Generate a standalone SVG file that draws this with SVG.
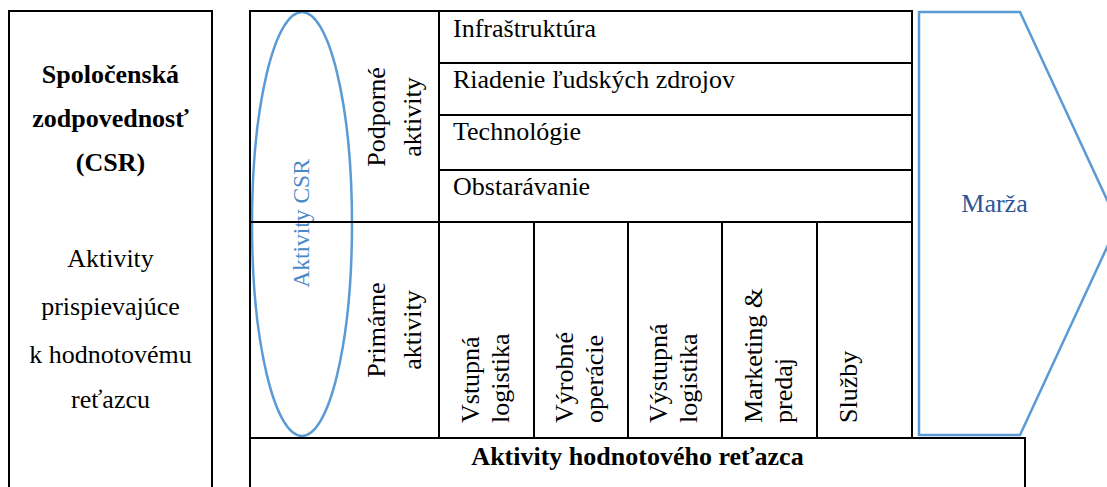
<svg xmlns="http://www.w3.org/2000/svg" width="1107" height="487" viewBox="0 0 1107 487">
<defs>
<marker id="none" markerWidth="1" markerHeight="1"/>
</defs>
<rect width="1107" height="487" fill="#fff"/>
<g id="csr-box" font-family="Liberation Serif" font-size="26" fill="#000" text-anchor="middle">
<rect x="9" y="11" width="203" height="500" fill="none" stroke="#000" stroke-width="2"/>
<text font-family="Liberation Serif" font-size="26" font-weight="bold" text-anchor="middle" x="110.5" y="83">Spoločenská</text>
<text font-family="Liberation Serif" font-size="26" font-weight="bold" text-anchor="middle" x="110.5" y="127">zodpovednosť</text>
<text font-family="Liberation Serif" font-size="26" font-weight="bold" text-anchor="middle" x="110.5" y="171">(CSR)</text>
<text font-family="Liberation Serif" font-size="26" text-anchor="middle" x="110.5" y="267">Aktivity</text>
<text font-family="Liberation Serif" font-size="26" text-anchor="middle" x="110.5" y="315">prispievajúce</text>
<text font-family="Liberation Serif" font-size="26" text-anchor="middle" x="110.5" y="363">k hodnotovému</text>
<text font-family="Liberation Serif" font-size="26" text-anchor="middle" x="110.5" y="408">reťazcu</text>
</g>
<g id="csr-ellipse">
<ellipse cx="302" cy="224" rx="50" ry="212" fill="none" stroke="#5B9BD5" stroke-width="2.5"/>
<text font-family="Liberation Serif" font-size="23.5" fill="#4A89C8" text-anchor="middle" transform="translate(309,223.5) rotate(-90)">Aktivity CSR</text>
</g>
<g id="value-chain">
<rect x="250" y="11" width="662" height="427" fill="none" stroke="#000" stroke-width="2"/>
<text font-family="Liberation Serif" font-size="26" text-anchor="middle" transform="translate(385,117) rotate(-90)">Podporné</text>
<text font-family="Liberation Serif" font-size="26" text-anchor="middle" transform="translate(421,117) rotate(-90)">aktivity</text>
<text font-family="Liberation Serif" font-size="26" text-anchor="middle" transform="translate(385,330) rotate(-90)">Primárne</text>
<text font-family="Liberation Serif" font-size="26" text-anchor="middle" transform="translate(421,330) rotate(-90)">aktivity</text>
</g>
<g id="support">
<text font-family="Liberation Serif" font-size="26" x="453" y="37">Infraštruktúra</text>
<text font-family="Liberation Serif" font-size="26" x="453" y="88">Riadenie ľudských zdrojov</text>
<text font-family="Liberation Serif" font-size="26" x="453" y="140">Technológie</text>
<text font-family="Liberation Serif" font-size="26" x="453" y="195">Obstarávanie</text>
</g>
<g id="primary">
<text font-family="Liberation Serif" font-size="26" transform="translate(479,423) rotate(-90)">Vstupná</text>
<text font-family="Liberation Serif" font-size="26" transform="translate(509,423) rotate(-90)">logistika</text>
<text font-family="Liberation Serif" font-size="26" transform="translate(573,423) rotate(-90)">Výrobné</text>
<text font-family="Liberation Serif" font-size="26" transform="translate(603,423) rotate(-90)">operácie</text>
<text font-family="Liberation Serif" font-size="26" transform="translate(667,423) rotate(-90)">Výstupná</text>
<text font-family="Liberation Serif" font-size="26" transform="translate(697,423) rotate(-90)">logistika</text>
<text font-family="Liberation Serif" font-size="26" transform="translate(762,423) rotate(-90)">Marketing &amp;</text>
<text font-family="Liberation Serif" font-size="26" transform="translate(792,423) rotate(-90)">predaj</text>
<text font-family="Liberation Serif" font-size="26" transform="translate(857,423) rotate(-90)">Služby</text>
</g>
<g id="connectors" stroke="#000" stroke-width="2">
<line x1="439" y1="11" x2="439" y2="438"/>
<line x1="439" y1="63" x2="912" y2="63"/>
<line x1="439" y1="115" x2="912" y2="115"/>
<line x1="439" y1="170" x2="912" y2="170"/>
<line x1="250" y1="222" x2="912" y2="222"/>
<line x1="534" y1="222" x2="534" y2="438"/>
<line x1="628" y1="222" x2="628" y2="438"/>
<line x1="722" y1="222" x2="722" y2="438"/>
<line x1="817" y1="222" x2="817" y2="438"/>
</g>
<g id="bottom-box">
<rect x="250" y="438" width="775" height="70" fill="none" stroke="#000" stroke-width="2"/>
<text font-family="Liberation Serif" font-size="26" font-weight="bold" text-anchor="middle" x="637.5" y="465">Aktivity hodnotového reťazca</text>
</g>
<g id="marza">
<polygon points="919,12 1020,12 1118,223.5 1020,435 919,435" fill="none" stroke="#5B9BD5" stroke-width="2.5"/>
<text font-family="Liberation Serif" font-size="26" fill="#2F5597" text-anchor="middle" x="994.5" y="212">Marža</text>
</g>
</svg>
